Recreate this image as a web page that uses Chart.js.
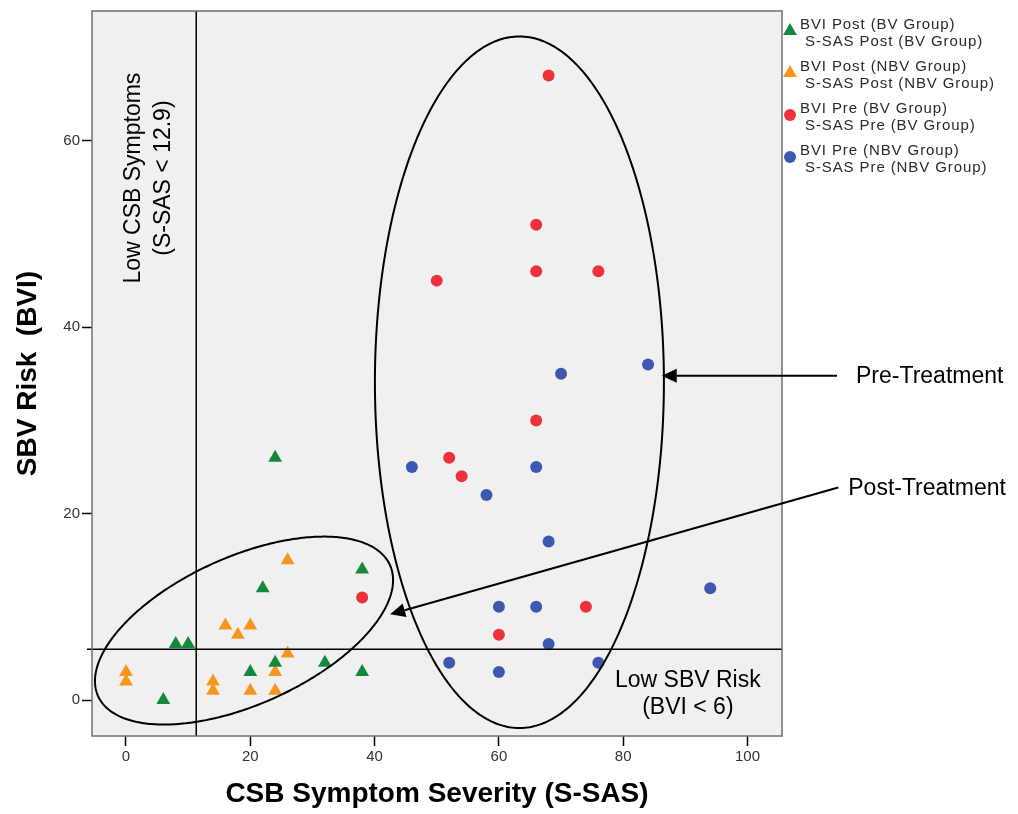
<!DOCTYPE html>
<html><head><meta charset="utf-8">
<script src="https://cdn.jsdelivr.net/npm/chart.js@4"></script>
<style>html,body{margin:0;padding:0;background:#fff}#wrap{width:1018px;height:814px;position:relative}</style>
</head><body><div id="wrap"><canvas id="c"></canvas></div>
<script>
// ---- data ----
const xTicks = [0, 20, 40, 60, 80, 100];
const yTicks = [0, 20, 40, 60];
const seriesLabels = [
  ["BVI Post (BV Group)", "S-SAS Post (BV Group)"],
  ["BVI Post (NBV Group)", "S-SAS Post (NBV Group)"],
  ["BVI Pre (BV Group)", "S-SAS Pre (BV Group)"],
  ["BVI Pre (NBV Group)", "S-SAS Pre (NBV Group)"]
];
const postBV_x  = [6, 8, 10, 22, 38, 20, 24, 32, 38, 24];
const postBV_y  = [0, 6, 6, 12, 14, 3, 4, 4, 3, 26];
const postNBV_x = [0, 0, 14, 14, 16, 20, 18, 26, 26, 24, 20, 24];
const postNBV_y = [3, 2, 2, 1, 8, 8, 7, 15, 5, 3, 1, 1];
const preBV_x   = [38, 68, 66, 66, 76, 50, 66, 52, 54, 74, 60];
const preBV_y   = [11, 67, 51, 46, 46, 45, 30, 26, 24, 10, 7];
const preNBV_x  = [70, 84, 46, 66, 58, 68, 94, 60, 66, 68, 52, 60, 76];
const preNBV_y  = [35, 36, 25, 25, 22, 17, 12, 10, 10, 6, 4, 3, 4];

const xTitle = "CSB Symptom Severity (S-SAS)";
const yTitle = "SBV Risk  (BVI)";
const cutX = 11.3;   // vertical reference line (S-SAS)
const cutY = 5.45;   // horizontal reference line (BVI)

const colors = ["#14893c", "#f7961e", "#ee323c", "#3c58b0"];
const styles = ["triangle", "triangle", "circle", "circle"];
const radii  = [8, 8, 6, 6];

const FONT = '"Liberation Sans", Arial, Helvetica, sans-serif';

function pts(xs, ys) { return xs.map((x, i) => ({x: x, y: ys[i]})); }
const seriesData = [pts(postBV_x, postBV_y), pts(postNBV_x, postNBV_y), pts(preBV_x, preBV_y), pts(preNBV_x, preNBV_y)];

// annotation geometry (data units)
const ellipses = [
  {c: [18.99, 7.45], u: [23.48, 7.03], v: [4.88, -7.23]},
  {c: [63.3, 34.1], u: [23.25, 0], v: [0, 37.1]}
];
const arrows = [
  {from: [114.4, 34.8], to: [86.2, 34.8], text: "Pre-Treatment", dx: 19},
  {from: [114.6, 22.8], to: [42.5, 9.2], text: "Post-Treatment", dx: 10}
];

const annotPlugin = {
  id: 'annot',
  beforeDraw(chart) {
    const {ctx, chartArea: a} = chart;
    ctx.save();
    ctx.fillStyle = '#f0f0f0';
    ctx.fillRect(a.left, a.top, a.right - a.left, a.bottom - a.top);
    ctx.restore();
  },
  afterDatasetsDraw(chart) {
    const {ctx, chartArea: a, scales: {x, y}} = chart;
    ctx.save();
    // reference lines
    ctx.strokeStyle = '#000'; ctx.lineWidth = 1.5;
    const px = x.getPixelForValue(cutX), py = y.getPixelForValue(cutY);
    ctx.beginPath(); ctx.moveTo(px, a.top); ctx.lineTo(px, a.bottom); ctx.stroke();
    ctx.beginPath(); ctx.moveTo(a.left - 5, py); ctx.lineTo(a.right, py); ctx.stroke();
    // ellipses
    ctx.lineWidth = 2;
    ellipses.forEach(e => {
      ctx.beginPath();
      for (let i = 0; i <= 360; i++) {
        const t = i * Math.PI / 180;
        const dx = e.c[0] + e.u[0] * Math.cos(t) + e.v[0] * Math.sin(t);
        const dy = e.c[1] + e.u[1] * Math.cos(t) + e.v[1] * Math.sin(t);
        const X = x.getPixelForValue(dx), Y = y.getPixelForValue(dy);
        if (i === 0) ctx.moveTo(X, Y); else ctx.lineTo(X, Y);
      }
      ctx.closePath(); ctx.stroke();
    });
    // in-plot labels
    ctx.fillStyle = '#000';
    ctx.font = '23px ' + FONT;
    ctx.textAlign = 'center'; ctx.textBaseline = 'middle';
    ctx.fillText('Low SBV Risk', x.getPixelForValue(90.4), y.getPixelForValue(2.05));
    ctx.fillText('(BVI < 6)', x.getPixelForValue(90.4), y.getPixelForValue(-0.85));
    ctx.save();
    ctx.translate(x.getPixelForValue(1.3), y.getPixelForValue(56));
    ctx.rotate(-Math.PI / 2);
    ctx.fillText('Low CSB Symptoms', 0, 0);
    ctx.restore();
    ctx.save();
    ctx.translate(x.getPixelForValue(6.1), y.getPixelForValue(56));
    ctx.rotate(-Math.PI / 2);
    ctx.fillText('(S-SAS < 12.9)', 0, 0);
    ctx.restore();
    ctx.restore();
  },
  afterDraw(chart) {
    const {ctx, chartArea: a, scales: {x, y}} = chart;
    ctx.save();
    // frame
    ctx.strokeStyle = '#707070'; ctx.lineWidth = 1.5;
    ctx.strokeRect(a.left, a.top, a.right - a.left, a.bottom - a.top);
    // arrows
    ctx.strokeStyle = '#000'; ctx.fillStyle = '#000'; ctx.lineWidth = 2;
    ctx.font = '23px ' + FONT; ctx.textAlign = 'left'; ctx.textBaseline = 'middle';
    arrows.forEach(ar => {
      const x0 = x.getPixelForValue(ar.from[0]), y0 = y.getPixelForValue(ar.from[1]);
      const x1 = x.getPixelForValue(ar.to[0]), y1 = y.getPixelForValue(ar.to[1]);
      const ang = Math.atan2(y1 - y0, x1 - x0);
      const hl = 15, hw = 7;
      const bx = x1 - hl * Math.cos(ang), by = y1 - hl * Math.sin(ang);
      ctx.beginPath(); ctx.moveTo(x0, y0); ctx.lineTo(bx, by); ctx.stroke();
      ctx.beginPath();
      ctx.moveTo(x1, y1);
      ctx.lineTo(bx + hw * Math.sin(ang), by - hw * Math.cos(ang));
      ctx.lineTo(bx - hw * Math.sin(ang), by + hw * Math.cos(ang));
      ctx.closePath(); ctx.fill();
      ctx.fillText(ar.text, x0 + ar.dx, y0 + 1);
    });
    // legend
    ctx.font = '15px ' + FONT;
    try { ctx.letterSpacing = '0.9px'; } catch (e) {}
    seriesLabels.forEach((lab, i) => {
      const gy = 25 + 42 * i;
      const mx = a.right + 8, my = gy + 6;
      ctx.fillStyle = colors[i];
      ctx.beginPath();
      if (styles[i] === 'triangle') {
        const r = radii[i];
        ctx.moveTo(mx, my - r);
        ctx.lineTo(mx + r * Math.sin(Math.PI * 2 / 3), my - r * Math.cos(Math.PI * 2 / 3));
        ctx.lineTo(mx + r * Math.sin(Math.PI * 4 / 3), my - r * Math.cos(Math.PI * 4 / 3));
        ctx.closePath();
      } else {
        ctx.arc(mx, my, radii[i], 0, Math.PI * 2);
      }
      ctx.fill();
      ctx.fillStyle = '#2a2a2a';
      ctx.fillText(lab[0], a.right + 18, gy);
      ctx.fillText(lab[1], a.right + 23, gy + 17);
    });
    ctx.restore();
  }
};

const chart = new Chart(document.getElementById('c'), {
  type: 'scatter',
  data: {
    datasets: seriesData.map((d, i) => ({
      label: seriesLabels[i].join(' / '),
      data: d,
      pointStyle: styles[i],
      pointRadius: radii[i],
      backgroundColor: colors[i],
      borderColor: colors[i],
      borderWidth: 0
    }))
  },
  options: {
    responsive: true, maintainAspectRatio: false, animation: false,
    layout: {padding: {top: 10, right: 236, left: 0, bottom: 0}},
    plugins: {legend: {display: false}, tooltip: {enabled: false}},
    scales: {
      x: {
        type: 'linear', min: -5.47, max: 105.55,
        afterBuildTicks: s => { s.ticks = xTicks.map(v => ({value: v})); },
        afterFit: s => { s.height = 78; },
        grid: {display: true, drawOnChartArea: false, drawTicks: true, tickLength: 10, tickColor: '#000', tickWidth: 1.5},
        border: {display: false},
        ticks: {color: '#333', font: {size: 15, family: FONT}, padding: 2, maxRotation: 0},
        title: {display: true, text: xTitle, color: '#000', font: {size: 28, weight: 'bold', family: FONT}, padding: {top: 0, bottom: 3}}
      },
      y: {
        type: 'linear', min: -3.86, max: 73.93,
        afterBuildTicks: s => { s.ticks = yTicks.map(v => ({value: v})); },
        afterFit: s => { s.width = 92; },
        grid: {display: true, drawOnChartArea: false, drawTicks: true, tickLength: 10, tickColor: '#000', tickWidth: 1.5},
        border: {display: false},
        ticks: {color: '#333', font: {size: 15, family: FONT}, padding: 2},
        title: {display: true, text: yTitle, color: '#000', font: {size: 28, weight: 'bold', family: FONT}, padding: {top: 11, bottom: 0}}
      }
    }
  },
  plugins: [annotPlugin]
});
</script>
</body></html>
